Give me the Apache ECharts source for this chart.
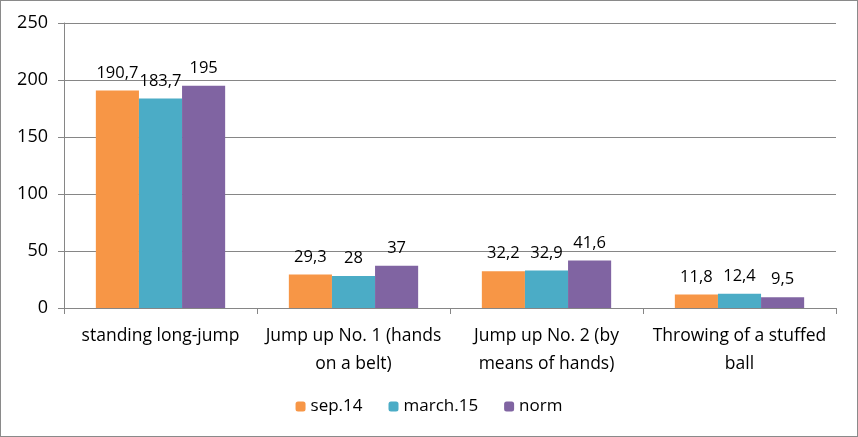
<!DOCTYPE html>
<html><head><meta charset="utf-8">
<script src="https://cdn.jsdelivr.net/npm/echarts@6/dist/echarts.min.js"></script>
<style>html,body{margin:0;padding:0;background:#fff}#c{width:856px;height:435px;border:1px solid #8a8a8a}</style>
</head><body><div id="c"></div>
<script>
var categories = ["standing long-jump", "Jump up No. 1 (hands\non a belt)", "Jump up No. 2 (by\nmeans of hands)", "Throwing of a stuffed\nball"];
var sep14 = [190.7, 29.3, 32.2, 11.8];
var march15 = [183.7, 28, 32.9, 12.4];
var norm = [195, 37, 41.6, 9.5];
var seriesNames = ["sep.14", "march.15", "norm"];
var colors = ["#F79646", "#4BACC6", "#8064A2"];
var font = "'Open Sans', 'Liberation Sans', sans-serif";
var chart = echarts.init(document.getElementById('c'));
function mk(name, data, color) {
  return {
    name: name, type: 'bar', data: data, barGap: '0%', barCategoryGap: '33%',
    itemStyle: { color: color },
    label: { show: true, position: 'top', distance: 9, color: '#000', fontSize: 16.5, fontFamily: font,
      formatter: function (p) { return String(p.value).replace('.', ','); } }
  };
}
chart.setOption({
  animation: false,
  color: colors,
  grid: { left: 63, right: 21, top: 22, bottom: 128 },
  legend: {
    bottom: 16, left: 'center', itemWidth: 10, itemHeight: 10, itemGap: 26,
    textStyle: { fontSize: 17, fontFamily: font, color: '#000' },
    data: seriesNames
  },
  xAxis: {
    type: 'category', data: categories,
    axisLine: { lineStyle: { color: '#868686' } },
    axisTick: { show: true, length: 6, lineStyle: { color: '#868686' } },
    axisLabel: { fontSize: 17.5, fontFamily: font, color: '#000', margin: 14, lineHeight: 28, interval: 0 }
  },
  yAxis: {
    type: 'value', min: 0, max: 250, interval: 50,
    axisLine: { show: true, lineStyle: { color: '#868686' } },
    axisTick: { show: true, length: 6, lineStyle: { color: '#868686' } },
    splitLine: { lineStyle: { color: '#868686' } },
    axisLabel: { fontSize: 18, fontFamily: font, color: '#000', margin: 16 }
  },
  series: [mk(seriesNames[0], sep14, colors[0]), mk(seriesNames[1], march15, colors[1]), mk(seriesNames[2], norm, colors[2])]
});
</script></body></html>
